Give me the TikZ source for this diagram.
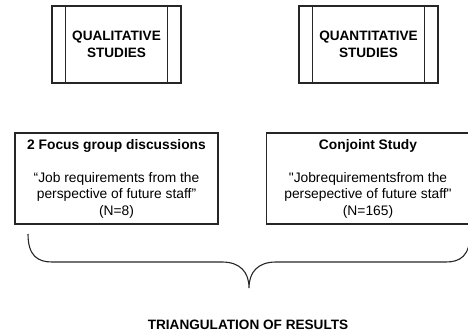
\documentclass[tikz,border=0pt]{standalone}
\usepackage{fontspec}
\setmainfont{Liberation Sans}[Ligatures=TeXOff]

\begin{document}
\begin{tikzpicture}[
  x=1pt, y=-1pt,
  line width=1.1pt,
  study/.style={draw=black!85, minimum height=77pt, inner sep=0pt,
    align=center, font=\bfseries\fontsize{13.6}{16.5}\selectfont},
  method/.style={draw=black!85, minimum width=203pt, minimum height=91pt,
    inner sep=0pt, align=center, font=\fontsize{13.8}{16.5}\selectfont},
  bracket/.style={draw=black!85},
  result/.style={font=\bfseries\fontsize{13.6}{16}\selectfont}]

  \useasboundingbox (0,0) rectangle (468,336);

  % top row
  \node[study, minimum width=129pt] (qual) at (116.5,44.5) {QUALITATIVE\\STUDIES};
  \node[study, minimum width=139pt] (quant) at (368.5,44.5) {QUANTITATIVE\\STUDIES};
  \foreach \n in {qual,quant} {
    \draw[black!85] ([xshift=14pt]\n.north west) -- ([xshift=14pt]\n.south west);
    \draw[black!85] ([xshift=-14pt]\n.north east) -- ([xshift=-14pt]\n.south east);
  }

  % methods
  \node[method] (focus) at (116.5,178.5) {\textbf{2 Focus group discussions}\\[16.5pt]
    “Job requirements from the\\perspective of future staff”\\(N=8)};
  \node[method] (conjoint) at (368,178.5) {\textbf{Conjoint Study}\\[16.5pt]
    "Jobrequirementsfrom the\\persepective of future staff"\\(N=165)};

  % brace
  \coordinate (bl) at (28,234);
  \coordinate (tip) at (249,288);
  \coordinate (br) at (470,234);
  \draw[bracket] (bl) .. controls +(0,22) and +(-14,0) .. (52,262) -- (222,262)
    .. controls +(18,0) and +(0,-16) .. (tip)
    .. controls +(0,-16) and +(-18,0) .. (276,262) -- (446,262)
    .. controls +(14,0) and +(0,22) .. (br);

  \node[result] (tri) at (248,325) {TRIANGULATION OF RESULTS};
\end{tikzpicture}
\end{document}
